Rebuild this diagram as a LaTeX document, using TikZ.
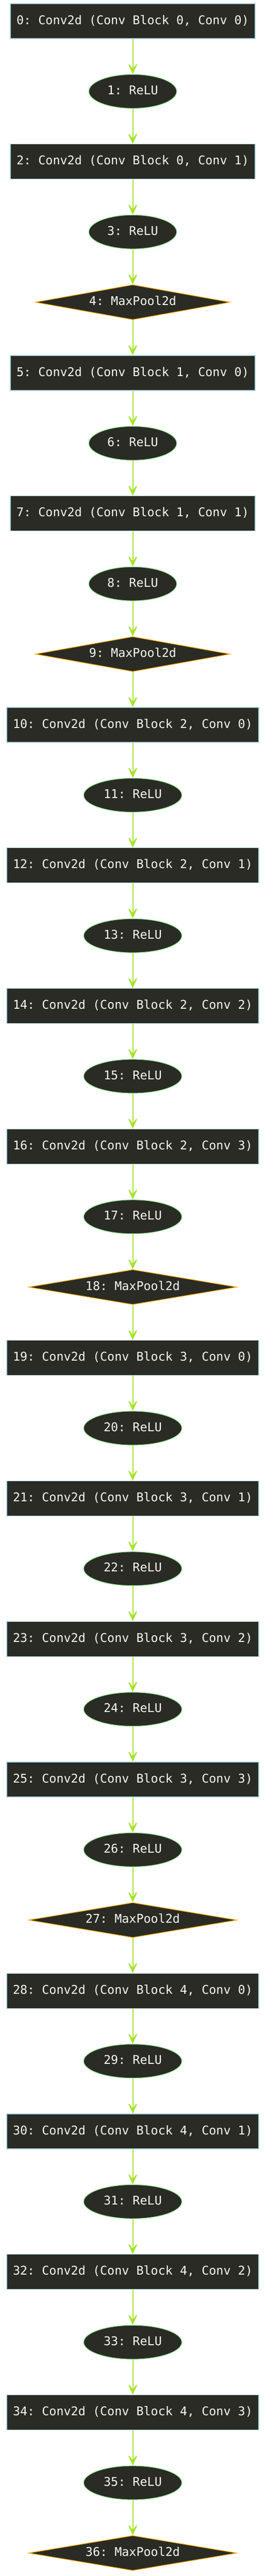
\documentclass[tikz,border=0pt]{standalone}
\usepackage{fontspec}
\setmonofont{DejaVu Sans Mono}
\usepackage{xcolor}
\usetikzlibrary{shapes,arrows.meta,positioning}

\definecolor{nodebg}{HTML}{2A2B24}
\definecolor{nodetext}{HTML}{F8F8F2}
\definecolor{convline}{HTML}{ADD8E6}
\definecolor{reluline}{HTML}{90EE90}
\definecolor{poolline}{HTML}{FFA500}
\definecolor{flowline}{HTML}{A6E22E}

\tikzset{
    layer/.style={fill=nodebg, text=nodetext, line width=0.6pt,
        font=\ttfamily\fontsize{11.7}{14}\selectfont, text height=8.5pt, text depth=2.5pt},
    conv/.style={layer, rectangle, draw=convline, inner xsep=6pt, minimum height=34pt},
    relu/.style={layer, ellipse, draw=reluline, inner xsep=5.5pt, minimum height=33pt},
    pool/.style={layer, diamond, draw=poolline, aspect=5.5, inner xsep=2pt, inner ysep=1pt,
        minimum width=189pt, minimum height=34pt},
    flow/.style={draw=flowline, line width=1pt, -{Stealth[length=13.5pt,width=12.5pt,inset=8.5pt]}}
}

\begin{document}
\begin{tikzpicture}[node distance=34.1pt]
    \useasboundingbox (0,0) rectangle (257.5pt,-2500pt);

    % Conv block 0
    \node[conv] (n0) at (128.75pt,-20.5pt) {0: Conv2d (Conv Block 0, Conv 0)};
    \node[relu, below=of n0] (n1) {1: ReLU};
    \node[conv, below=of n1] (n2) {2: Conv2d (Conv Block 0, Conv 1)};
    \node[relu, below=of n2] (n3) {3: ReLU};
    \node[pool, below=of n3] (n4) {4: MaxPool2d};

    % Conv block 1
    \node[conv, below=of n4] (n5) {5: Conv2d (Conv Block 1, Conv 0)};
    \node[relu, below=of n5] (n6) {6: ReLU};
    \node[conv, below=of n6] (n7) {7: Conv2d (Conv Block 1, Conv 1)};
    \node[relu, below=of n7] (n8) {8: ReLU};
    \node[pool, below=of n8] (n9) {9: MaxPool2d};

    % Conv block 2
    \node[conv, below=of n9] (n10) {10: Conv2d (Conv Block 2, Conv 0)};
    \node[relu, below=of n10] (n11) {11: ReLU};
    \node[conv, below=of n11] (n12) {12: Conv2d (Conv Block 2, Conv 1)};
    \node[relu, below=of n12] (n13) {13: ReLU};
    \node[conv, below=of n13] (n14) {14: Conv2d (Conv Block 2, Conv 2)};
    \node[relu, below=of n14] (n15) {15: ReLU};
    \node[conv, below=of n15] (n16) {16: Conv2d (Conv Block 2, Conv 3)};
    \node[relu, below=of n16] (n17) {17: ReLU};
    \node[pool, minimum width=202pt, below=of n17] (n18) {18: MaxPool2d};

    % Conv block 3
    \node[conv, below=of n18] (n19) {19: Conv2d (Conv Block 3, Conv 0)};
    \node[relu, below=of n19] (n20) {20: ReLU};
    \node[conv, below=of n20] (n21) {21: Conv2d (Conv Block 3, Conv 1)};
    \node[relu, below=of n21] (n22) {22: ReLU};
    \node[conv, below=of n22] (n23) {23: Conv2d (Conv Block 3, Conv 2)};
    \node[relu, below=of n23] (n24) {24: ReLU};
    \node[conv, below=of n24] (n25) {25: Conv2d (Conv Block 3, Conv 3)};
    \node[relu, below=of n25] (n26) {26: ReLU};
    \node[pool, minimum width=202pt, below=of n26] (n27) {27: MaxPool2d};

    % Conv block 4
    \node[conv, below=of n27] (n28) {28: Conv2d (Conv Block 4, Conv 0)};
    \node[relu, below=of n28] (n29) {29: ReLU};
    \node[conv, below=of n29] (n30) {30: Conv2d (Conv Block 4, Conv 1)};
    \node[relu, below=of n30] (n31) {31: ReLU};
    \node[conv, below=of n31] (n32) {32: Conv2d (Conv Block 4, Conv 2)};
    \node[relu, below=of n32] (n33) {33: ReLU};
    \node[conv, below=of n33] (n34) {34: Conv2d (Conv Block 4, Conv 3)};
    \node[relu, below=of n34] (n35) {35: ReLU};
    \node[pool, minimum width=202pt, below=of n35] (n36) {36: MaxPool2d};

    % Forward connections
    \foreach \i [evaluate=\i as \j using int(\i+1)] in {0,...,35} {
        \draw[flow] (n\i) -- (n\j);
    }
\end{tikzpicture}
\end{document}
